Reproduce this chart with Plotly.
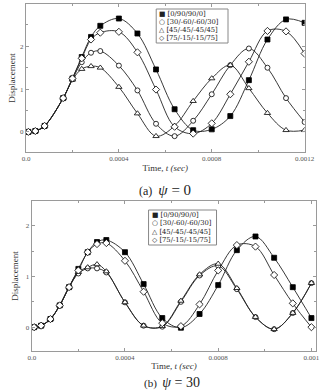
import plotly.graph_objects as go

# ---------------- data ----------------
t_a = [0.00001, 0.00004, 0.00008, 0.00016, 0.0002, 0.00024, 0.00028, 0.00032, 0.0004,
       0.00048, 0.00056, 0.00064, 0.00072, 0.0008, 0.00088, 0.00096, 0.00104, 0.00112, 0.0012]
sq_a = [0, 0.02, 0.14, 0.79, 1.25, 1.75, 2.22, 2.48, 2.65, 2.30, 1.46, 0.53, 0.04, 0.06, 0.37, 1.21, 2.16, 2.63, 2.55]
ci_a = [0, 0.02, 0.14, 0.79, 1.23, 1.63, 1.85, 1.89, 1.55, 0.97, 0.19, -0.10, 0.26, 0.88, 1.56, 1.95, 1.50, 0.79, 0.23]
tr_a = [0, 0.02, 0.14, 0.79, 1.22, 1.47, 1.535, 1.50, 1.05, 0.43, -0.10, 0.14, 0.72, 1.25, 1.56, 1.02, 0.44, 0.04, 0.04]
di_a = [0, 0.02, 0.14, 0.79, 1.25, 1.72, 2.16, 2.32, 2.34, 1.86, 0.99, 0.12, -0.04, 0.20, 0.88, 1.64, 2.36, 2.35, 1.83]

t_b = [0.00001, 0.00004, 0.00008, 0.00012, 0.00016, 0.0002, 0.00024, 0.00028, 0.00032, 0.0004,
       0.00048, 0.00056, 0.00064, 0.00072, 0.0008, 0.00088, 0.00096, 0.00104, 0.00112, 0.0012]
sq_b = [0, 0.03, 0.16, 0.43, 0.79, 1.15, 1.48, 1.68, 1.72, 1.48, 0.85, 0.18, -0.01, 0.26, 0.83, 1.52, 1.79, 1.37, 0.79, 0.18]
ci_b = [0, 0.03, 0.16, 0.43, 0.79, 1.06, 1.16, 1.16, 1.08, 0.49, 0.03, 0.01, 0.50, 1.02, 1.21, 0.75, 0.20, -0.04, 0.28, 0.87]
tr_b = [0, 0.03, 0.16, 0.43, 0.79, 1.09, 1.18, 1.24, 1.10, 0.49, 0.03, 0.02, 0.52, 1.04, 1.25, 0.77, 0.20, -0.04, 0.28, 0.87]
di_b = [0, 0.03, 0.16, 0.43, 0.79, 1.12, 1.48, 1.64, 1.66, 1.31, 0.70, 0.08, 0.02, 0.45, 1.12, 1.62, 1.59, 1.03, 0.47, 0.00]

names = ["[0/90/90/0]", "[30/-60/-60/30]", "[45/-45/-45/45]", "[75/-15/-15/75]"]
legend_syms = ["■", "○", "△", "◇"]
x_tickvals = [0, 0.0004, 0.0008, 0.0012]
x_ticktext_a = ["0.0", "0.0004", "0.0008", "0.0012"]
x_ticktext_b = ["0.0", "0.0004", "0.0008", "0.001"]

# ---------------- figure ----------------
W, H = 328, 391
SERIF = "Liberation Serif, Times New Roman, serif"
LEGF = "DejaVu Serif, serif"
fig = go.Figure()

styles = [
    dict(symbol="square", color="black", size=5, line=dict(color="black", width=0.8)),
    dict(symbol="circle", color="white", size=5, line=dict(color="black", width=0.8)),
    dict(symbol="triangle-up", color="white", size=5.5, line=dict(color="black", width=0.8)),
    dict(symbol="diamond", color="white", size=5.5, line=dict(color="black", width=0.8)),
]

for (xs, series, xa, ya) in [(t_a, [sq_a, ci_a, tr_a, di_a], "x", "y"),
                             (t_b, [sq_b, ci_b, tr_b, di_b], "x2", "y2")]:
    for k, ys in enumerate(series):
        fig.add_trace(go.Scatter(
            x=xs, y=ys, mode="lines+markers", name=names[k], showlegend=False,
            line=dict(color="#222", width=0.9, shape="spline"),
            marker=styles[k], xaxis=xa, yaxis=ya))

def px_x(p):
    return p / W

def px_y(p):
    return 1 - p / H

axis_common = dict(showline=True, linecolor="#9a9a9a", linewidth=1, mirror="ticks",
                   ticks="inside", ticklen=3, tickcolor="#9a9a9a", showgrid=False,
                   zeroline=False, tickfont=dict(family=SERIF, size=7, color="#555"))

fig.update_layout(
    width=W, height=H, margin=dict(l=0, r=0, t=0, b=0),
    paper_bgcolor="white", plot_bgcolor="white", showlegend=False,
    xaxis=dict(domain=[px_x(23), px_x(314)], range=[0, 0.0012], anchor="y",
               tickvals=x_tickvals, ticktext=x_ticktext_a,
               minor=dict(dtick=0.0002, ticks="inside", ticklen=2, tickcolor="#9a9a9a"),
               title=dict(text="Time, <i>t (sec)</i>", font=dict(family=SERIF, size=9, color="#333"), standoff=2),
               **axis_common),
    yaxis=dict(domain=[px_y(152), px_y(4)], range=[-0.47, 2.99], anchor="x",
               tickvals=[0, 1, 2, 3], ticktext=["0", "1", "2", "3"],
               minor=dict(dtick=0.5, ticks="inside", ticklen=2, tickcolor="#9a9a9a"),
               title=dict(text="Displacement", font=dict(family=SERIF, size=9, color="#333"), standoff=2),
               **axis_common),
    xaxis2=dict(domain=[px_x(29), px_x(326)], range=[0, 0.00122], anchor="y2",
                tickvals=x_tickvals, ticktext=x_ticktext_b,
                minor=dict(dtick=0.0002, ticks="inside", ticklen=2, tickcolor="#9a9a9a"),
                title=dict(text="Time, <i>t (sec)</i>", font=dict(family=SERIF, size=9, color="#333"), standoff=1),
                **axis_common),
    yaxis2=dict(domain=[px_y(351), px_y(201)], range=[-0.47, 2.49], anchor="x2",
                tickvals=[0, 1, 2], ticktext=["0", "1", "2"],
                minor=dict(dtick=0.5, ticks="inside", ticklen=2, tickcolor="#9a9a9a"),
                title=dict(text="Displacement", font=dict(family=SERIF, size=9, color="#333"), standoff=5),
                **axis_common),
)

# ---------------- legends (boxes with symbol + label) ----------------
def add_legend(x0, x1, y0, y1, text_x):
    fig.add_shape(type="rect", xref="paper", yref="paper",
                  x0=px_x(x0), x1=px_x(x1), y0=px_y(y1), y1=px_y(y0),
                  line=dict(color="#888", width=1), fillcolor="white", layer="above")
    step = (y1 - y0 - 1) / 4.0
    for k in range(4):
        fig.add_annotation(xref="paper", yref="paper", x=px_x(text_x),
                           y=px_y(y0 + 0.5 + step * (k + 0.5)),
                           xanchor="left", yanchor="middle", showarrow=False,
                           text=legend_syms[k] + " " + names[k],
                           font=dict(family=LEGF, size=6.8, color="#222"))

add_legend(159, 234, 9, 43, 160)
add_legend(151, 222, 210, 245, 152)

# ---------------- captions ----------------
fig.add_annotation(xref="paper", yref="paper", x=px_x(168), y=px_y(190), showarrow=False,
                   xanchor="center", yanchor="middle",
                   text="(a)  <span style='font-size:15px'><i>ψ</i> = 0</span>",
                   font=dict(family=SERIF, size=12, color="#222"))
fig.add_annotation(xref="paper", yref="paper", x=px_x(175), y=px_y(382), showarrow=False,
                   xanchor="center", yanchor="middle",
                   text="(b)  <span style='font-size:14px'><i>ψ</i> = 30</span>",
                   font=dict(family=SERIF, size=11, color="#222"))

fig.write_html("out.html")
